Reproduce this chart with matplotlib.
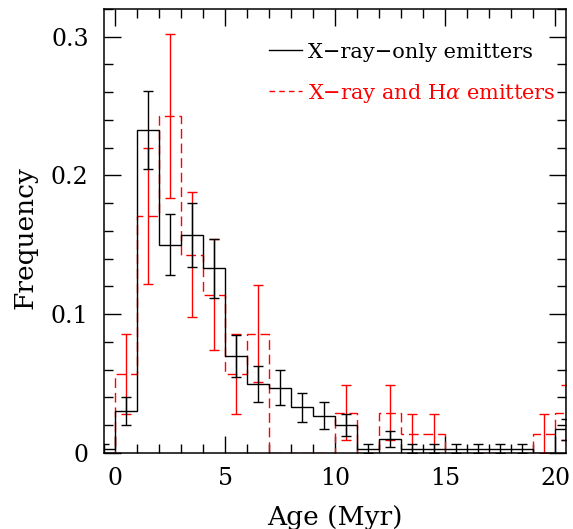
import numpy as np
import matplotlib
matplotlib.use("Agg")
import matplotlib.pyplot as plt
from matplotlib.lines import Line2D
from matplotlib.ticker import MultipleLocator, FuncFormatter

plt.rcParams.update({
    "font.family": "DejaVu Serif",
    "mathtext.fontset": "dejavuserif",
    "lines.scale_dashes": False,
})

# Age bins (Myr), width 1
bin_edges = np.arange(-1, 22, 1)

# X-ray-only emitters (black, solid)
xray_only = np.array([0.003, 0.030, 0.233, 0.150, 0.157, 0.133, 0.070, 0.050,
                      0.047, 0.033, 0.027, 0.020, 0.003, 0.010, 0.003, 0.003,
                      0.003, 0.003, 0.003, 0.003, 0.000, 0.017])
xray_only_err = np.array([0.0033, 0.010, 0.028, 0.022, 0.023, 0.021, 0.015, 0.013,
                          0.0125, 0.0105, 0.0094, 0.0080, 0.0033, 0.0057, 0.0033, 0.0033,
                          0.0033, 0.0033, 0.0033, 0.0033, 0.0, 0.0075])

# X-ray and H-alpha emitters (red, dashed)
xray_ha = np.array([0.000, 0.057, 0.171, 0.243, 0.143, 0.114, 0.057, 0.086,
                    0.000, 0.000, 0.000, 0.029, 0.000, 0.029, 0.014, 0.014,
                    0.000, 0.000, 0.000, 0.000, 0.014, 0.029])
xray_ha_err = np.array([0.0, 0.029, 0.049, 0.059, 0.045, 0.040, 0.029, 0.035,
                        0.0, 0.0, 0.0, 0.020, 0.0, 0.020, 0.014, 0.014,
                        0.0, 0.0, 0.0, 0.0, 0.014, 0.020])

labels = ["X\u2212ray\u2212only emitters", "X\u2212ray and H$\\alpha$ emitters"]
RED = "#ff0000"
DASH = (0, (7, 3.5))

centers = 0.5 * (bin_edges[:-1] + bin_edges[1:])

fig = plt.figure(figsize=(5.73, 5.29), dpi=100)
ax = fig.add_axes([0.1815, 0.1437, 0.8063, 0.8393])

# red histogram underneath
ax.stairs(xray_ha, bin_edges, color=RED, linewidth=1.0, linestyle=DASH, zorder=2)
m = xray_ha_err > 0
ax.errorbar(centers[m], xray_ha[m], yerr=xray_ha_err[m], fmt="none", ecolor=RED,
            elinewidth=1.0, capsize=3.6, capthick=1.0, zorder=2)

# black histogram on top
ax.stairs(xray_only, bin_edges, color="black", linewidth=1.0, zorder=3)
m = xray_only_err > 0
ax.errorbar(centers[m], xray_only[m], yerr=xray_only_err[m], fmt="none", ecolor="black",
            elinewidth=1.0, capsize=3.6, capthick=1.0, zorder=3)

ax.set_xlim(-0.5, 20.5)
ax.set_ylim(0, 0.32)
ax.xaxis.set_major_locator(MultipleLocator(5))
ax.xaxis.set_minor_locator(MultipleLocator(1))
ax.yaxis.set_major_locator(MultipleLocator(0.1))
ax.yaxis.set_minor_locator(MultipleLocator(0.02))
ax.yaxis.set_major_formatter(FuncFormatter(lambda v, _: "0" if abs(v) < 1e-9 else f"{v:.1f}"))
ax.xaxis.set_major_formatter(FuncFormatter(lambda v, _: f"{v:.0f}"))

ax.tick_params(which="both", direction="in", top=True, right=True, width=1.0, labelsize=17)
ax.tick_params(which="major", length=12)
ax.tick_params(which="minor", length=6.5)
ax.tick_params(axis="y", pad=11)
ax.tick_params(axis="x", pad=10)
for s in ax.spines.values():
    s.set_linewidth(1.1)

ax.set_xlabel("Age (Myr)", fontsize=19)
ax.set_ylabel("Frequency", fontsize=19)
ax.xaxis.set_label_coords(0.5, -0.118)
ax.yaxis.set_label_coords(-0.143, 0.485)

handles = [Line2D([], [], color="black", linewidth=1.0),
           Line2D([], [], color=RED, linewidth=1.0, linestyle=(0, (4, 3)))]
leg = ax.legend(handles, labels, loc="upper right", bbox_to_anchor=(0.978, 0.924),
                frameon=False, fontsize=15, handlelength=1.6, handletextpad=0.3,
                labelspacing=0.95, borderpad=0, borderaxespad=0)
leg.get_texts()[1].set_color(RED)

fig.savefig("out.png", dpi=100)
